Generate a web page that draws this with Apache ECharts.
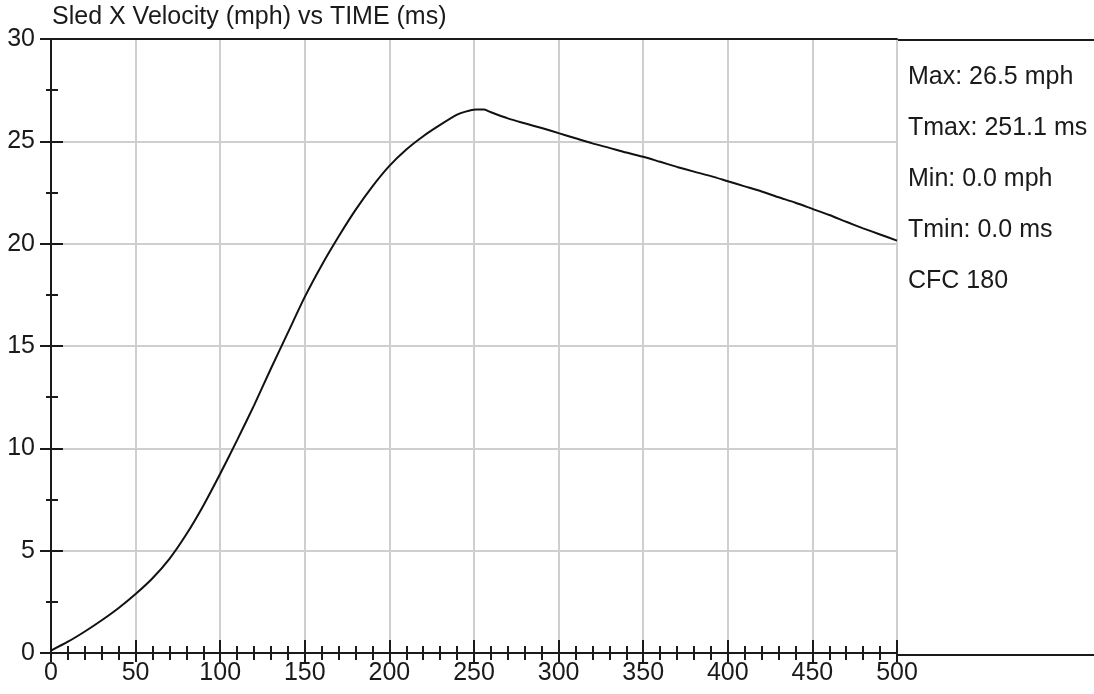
<!DOCTYPE html>
<html>
<head>
<meta charset="utf-8">
<script src="https://cdn.jsdelivr.net/npm/echarts@6/dist/echarts.min.js"></script>
<style>
  html, body { margin: 0; padding: 0; background: #fff; }
  #chart { width: 1094px; height: 694px; }
</style>
</head>
<body>
<div id="chart"></div>
<script>
// sled X velocity (mph), time in ms
const timeMs = [0, 10, 20, 30, 40, 50, 60, 70, 80, 90, 100, 110, 120, 130, 140, 150, 160, 170, 180, 190,
  200, 210, 220, 230, 240, 245, 251, 256, 260, 270, 280, 290, 300, 310, 320, 330, 340, 350, 360, 370,
  380, 390, 400, 410, 420, 430, 440, 450, 460, 470, 480, 490, 500]
const velocityMph = [0.12, 0.55, 1.05, 1.6, 2.2, 2.88, 3.65, 4.6, 5.8, 7.2, 8.76, 10.4, 12.1, 13.9, 15.65, 17.4, 18.95, 20.35, 21.65, 22.8,
  23.8, 24.6, 25.25, 25.8, 26.3, 26.45, 26.55, 26.55, 26.42, 26.12, 25.88, 25.65, 25.4, 25.15, 24.9, 24.68, 24.45, 24.25, 24.0, 23.75,
  23.52, 23.3, 23.05, 22.8, 22.55, 22.27, 22.0, 21.7, 21.4, 21.07, 20.75, 20.45, 20.15]

const titleText = 'Sled X Velocity (mph) vs TIME (ms)'
const statLines = ['Max: 26.5 mph', 'Tmax: 251.1 ms', 'Min: 0.0 mph', 'Tmin: 0.0 ms', 'CFC 180']

const xRange = { min: 0, max: 500, interval: 50 }
const yRange = { min: 0, max: 30, interval: 5 }

const FONT = "'Liberation Sans', Arial, sans-serif"
const FONT_SIZE = 25
const INK = '#1a1a1a'

const chart = echarts.init(document.getElementById('chart'), null, { renderer: 'canvas' })

// bottom/left axes come in pairs: one with outward ticks + labels, one with inward ticks
const xAxes = [
  {
    type: 'value', position: 'bottom', ...xRange,
    axisLine: { onZero: false, lineStyle: { color: INK, width: 2 } },
    axisTick: { length: 9, lineStyle: { color: INK, width: 2 } },
    minorTick: { show: true, splitNumber: 5, length: 7, lineStyle: { color: INK, width: 2 } },
    axisLabel: { color: INK, fontSize: FONT_SIZE, fontFamily: FONT, margin: 8, showMaxLabel: true },
    splitLine: { show: true, lineStyle: { color: '#cfcfcf', width: 2 } },
  },
  {
    type: 'value', position: 'bottom', ...xRange,
    axisLine: { show: false },
    axisTick: { inside: true, length: 13, lineStyle: { color: INK, width: 2 } },
    minorTick: { show: true, splitNumber: 5, length: 7, lineStyle: { color: INK, width: 2 } },
    axisLabel: { show: false },
    splitLine: { show: false },
  },
  {
    type: 'value', position: 'top', ...xRange,
    axisLine: { onZero: false, lineStyle: { color: INK, width: 2 } },
    axisTick: { show: false },
    axisLabel: { show: false },
    splitLine: { show: false },
  },
]

const yAxes = [
  {
    type: 'value', position: 'left', ...yRange,
    axisLine: { show: true, onZero: false, lineStyle: { color: INK, width: 2 } },
    axisTick: { show: true, length: 11, lineStyle: { color: INK, width: 2 } },
    minorTick: { show: true, splitNumber: 2, length: 5, lineStyle: { color: INK, width: 2 } },
    axisLabel: { color: INK, fontSize: FONT_SIZE, fontFamily: FONT, margin: 16 },
    splitLine: { show: true, lineStyle: { color: '#cfcfcf', width: 2 } },
  },
  {
    type: 'value', position: 'left', ...yRange,
    axisLine: { show: false },
    axisTick: { show: true, inside: true, length: 12, lineStyle: { color: INK, width: 2 } },
    minorTick: { show: true, splitNumber: 2, length: 7, lineStyle: { color: INK, width: 2 } },
    axisLabel: { show: false },
    splitLine: { show: false },
  },
]

const statTop = 77
const statStep = 51

const option = {
  animation: false,
  backgroundColor: '#fff',
  title: {
    text: titleText,
    left: 52,
    top: 5,
    padding: 0,
    textStyle: { color: INK, fontSize: FONT_SIZE, fontWeight: 'normal', fontFamily: FONT },
  },
  grid: { left: 51, right: 197, top: 39, bottom: 41, containLabel: false },
  xAxis: xAxes,
  yAxis: yAxes,
  graphic: [
    // the side panel box next to the plot
    {
      type: 'rect',
      shape: { x: 897, y: 40, width: 210, height: 615 },
      style: { fill: 'none', stroke: INK, lineWidth: 2 },
      silent: true,
    },
    ...statLines.map((s, i) => ({
      type: 'text',
      x: 908,
      y: statTop + i * statStep,
      style: {
        text: s,
        fill: INK,
        fontSize: FONT_SIZE,
        fontFamily: FONT,
        verticalAlign: 'middle',
      },
      silent: true,
    })),
  ],
  series: [
    {
      type: 'line',
      xAxisIndex: 0,
      yAxisIndex: 0,
      showSymbol: false,
      smooth: 0.25,
      lineStyle: { color: '#111', width: 2 },
      data: timeMs.map((t, i) => [t, velocityMph[i]]),
      z: 5,
    },
  ],
}

chart.setOption(option)
</script>
</body>
</html>
